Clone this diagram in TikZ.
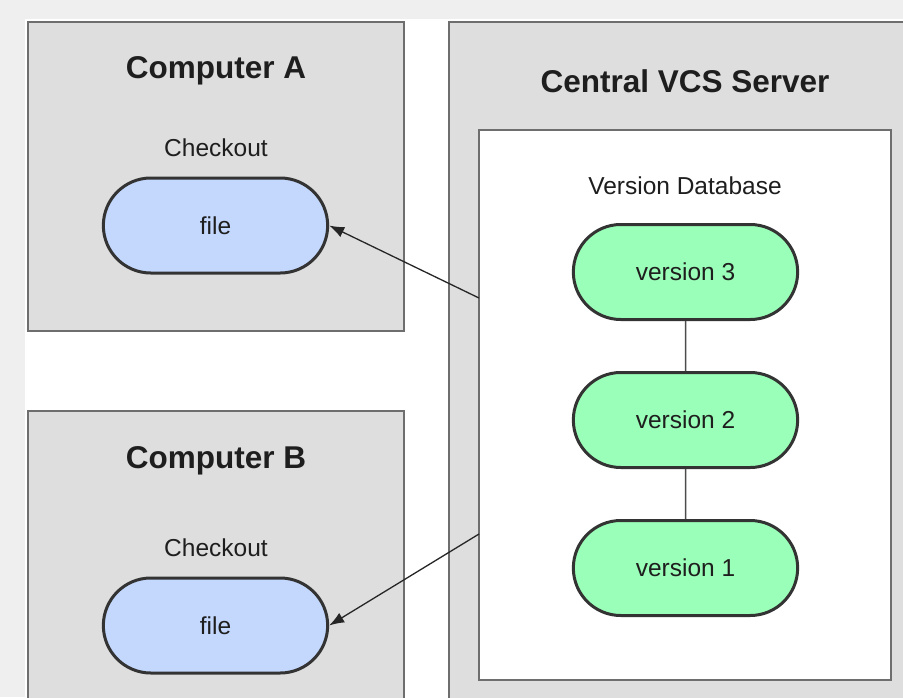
\documentclass[tikz,border=0pt]{standalone}
\usepackage{fontspec}
\setmainfont{Liberation Sans}
\usepackage{xcolor}
\usetikzlibrary{shapes.misc, arrows.meta, positioning}

\definecolor{pagegray}{HTML}{EFEFEF}
\definecolor{boxgray}{HTML}{DEDEDE}
\definecolor{edgegray}{HTML}{6E6E6E}
\definecolor{fileblue}{HTML}{C3D8FC}
\definecolor{vergreen}{HTML}{9AFFB8}
\definecolor{inkdark}{HTML}{1E1E1E}

\begin{document}
\begin{tikzpicture}[
    x=1pt, y=-1pt,
    node distance=50pt,
    hostbox/.style={rectangle, draw=edgegray, fill=boxgray, line width=2pt, inner sep=0pt},
    dbbox/.style={rectangle, draw=edgegray, fill=white, line width=2pt, inner sep=0pt},
    hosttitle/.style={font=\bfseries\fontsize{31.5}{36}\selectfont, text=inkdark},
    labeltext/.style={font=\fontsize{24.5}{28}\selectfont, text=inkdark},
    pill/.style={rounded rectangle, draw=black!80, line width=3pt, minimum width=231pt, minimum height=95pt, font=\fontsize{24.5}{28}\selectfont, text=inkdark},
    filepill/.style={pill, fill=fileblue},
    verpill/.style={pill, fill=vergreen},
    arr/.style={-{Latex[length=15pt,width=11pt]}, line width=1.3pt, color=black!85},
    link/.style={line width=1.5pt, color=black!70}
]

% page and margins
\clip (0,0) rectangle (903,697);
\fill[pagegray] (0,0) rectangle (903,697);
\fill[white] (25,19) rectangle (903,697);

% the three machines
\node[hostbox, minimum width=376pt, minimum height=309pt] (compA) at (216,176.5) {};
\node[hostbox, minimum width=376pt, minimum height=360pt] (compB) at (216,591) {};
\node[hostbox, minimum width=480pt, minimum height=760pt] (server) at (689,402) {};
\node[dbbox, minimum width=412pt, minimum height=550pt] (db) at (685,405) {};

% computer A
\node[hosttitle] (titleA) at (216,71) {Computer A};
\node[labeltext] (checkA) at (216,148) {Checkout};
\node[filepill] (fileA) at (215.5,225.5) {file};

% computer B
\node[hosttitle] (titleB) at (216,461) {Computer B};
\node[labeltext] (checkB) at (216,548) {Checkout};
\node[filepill] (fileB) at (215.5,625.5) {file};

% server
\node[hosttitle] (titleS) at (685,81) {Central VCS Server};
\node[labeltext] (dbname) at (685,186) {Version Database};
\node[verpill] (v3) at (685.5,272) {version 3};
\node[verpill, below=50pt of v3] (v2) {version 2};
\node[verpill, below=50pt of v2] (v1) {version 1};

\draw[link] (v3) -- (v2);
\draw[link] (v2) -- (v1);

\coordinate (outA) at (479,298);
\coordinate (outB) at (479,534);
\draw[arr] (outA) -- (fileA.east);
\draw[arr] (outB) -- (fileB.east);

\end{tikzpicture}
\end{document}
